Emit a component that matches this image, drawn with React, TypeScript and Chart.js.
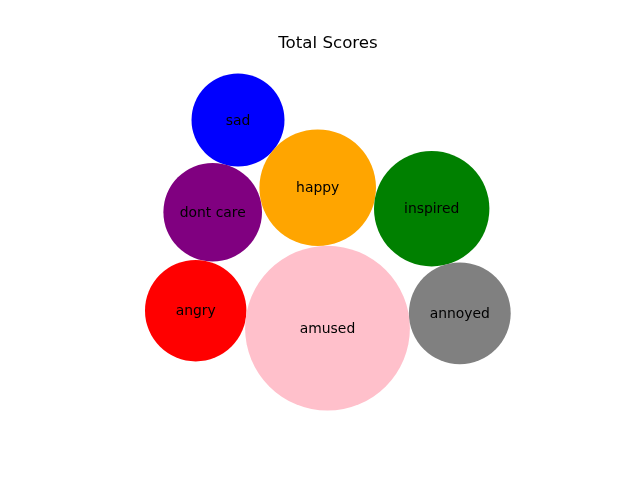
import React, { useEffect, useRef } from "react";
import { Chart, registerables } from "chart.js";

Chart.register(...registerables);

const labels = ["sad", "happy", "dont care", "inspired", "angry", "amused", "annoyed"];
const xValues = [158, 237.7, 132.7, 351.7, 115.7, 247.5, 379.8];
const yValues = [307.2, 239.5, 215, 218.4, 116.5, 99, 113.9];
const radii = [46.5, 58.3, 49.3, 57.7, 50.7, 82.4, 50.9];
const colors = ["#0000ff", "#ffa500", "#800080", "#008000", "#ff0000", "#ffc0cb", "#808080"];
const title = "Total Scores";

const labelPlugin = {
  id: "bubbleLabels",
  afterDatasetsDraw(chart: any) {
    const ctx = chart.ctx;
    const meta = chart.getDatasetMeta(0);
    ctx.save();
    ctx.font = '13.9px "DejaVu Sans"';
    ctx.fillStyle = "#000000";
    ctx.textAlign = "center";
    ctx.textBaseline = "middle";
    meta.data.forEach((el: any, i: number) => {
      ctx.fillText(labels[i], el.x, el.y + 1);
    });
    ctx.restore();
  },
};

export default function App() {
  const ref = useRef<HTMLCanvasElement | null>(null);
  useEffect(() => {
    if (!ref.current) return;
    const chart = new Chart(ref.current, {
      type: "bubble",
      data: {
        labels,
        datasets: [
          {
            data: labels.map((_, i) => ({ x: xValues[i], y: yValues[i], r: radii[i] })),
            backgroundColor: colors,
            borderWidth: 0,
            hoverBorderWidth: 0,
            clip: false as any,
          },
        ],
      },
      options: {
        responsive: false,
        animation: false,
        events: [],
        layout: { autoPadding: false, padding: { left: 80, right: 64, top: 0, bottom: 52.8 } },
        plugins: {
          legend: { display: false },
          tooltip: { enabled: false },
          title: {
            display: true,
            text: title,
            color: "#000000",
            font: { family: "DejaVu Sans", size: 16.67, weight: "normal" as any, lineHeight: 1.2 },
            padding: { top: 34, bottom: 3.6 },
          },
        },
        scales: {
          x: { type: "linear", display: false, min: 0, max: 496 },
          y: { type: "linear", display: false, min: 0, max: 369.6 },
        },
      },
      plugins: [labelPlugin],
    });
    return () => chart.destroy();
  }, []);
  return (
    <div style={{ position: "absolute", left: 0, top: 0, width: 640, height: 480, background: "#ffffff" }}>
      <canvas ref={ref} width={640} height={480} />
    </div>
  );
}
